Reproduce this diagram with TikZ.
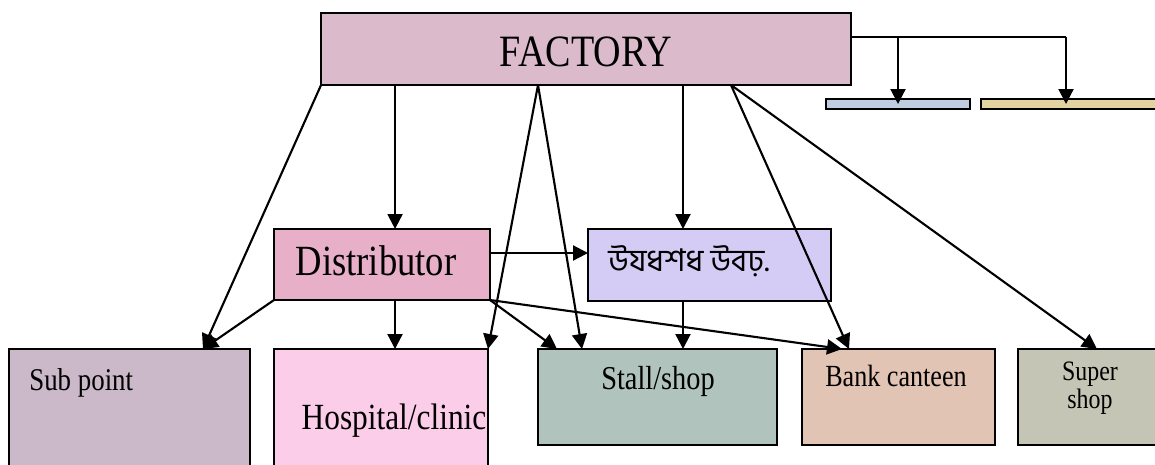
\documentclass[tikz,border=0pt]{standalone}
\usepackage{fontspec}
\setmainfont{Liberation Serif}[FakeStretch=0.85]
\newfontfamily\bnfont[Script=Bengali]{Hind Siliguri}
\usetikzlibrary{arrows.meta}
\definecolor{factorypink}{RGB}{219,187,203}
\definecolor{distpink}{RGB}{232,175,200}
\definecolor{depotlilac}{RGB}{212,204,244}
\definecolor{submauve}{RGB}{203,185,202}
\definecolor{hosppink}{RGB}{251,205,232}
\definecolor{stallgreen}{RGB}{176,195,188}
\definecolor{banktan}{RGB}{226,196,181}
\definecolor{supergrey}{RGB}{196,197,180}
\definecolor{barblue}{RGB}{192,205,225}
\definecolor{barsand}{RGB}{226,211,160}

\begin{document}
\begin{tikzpicture}[x=0.02cm,y=-0.02cm,
    caja/.style={draw=black,line width=0.9pt,inner sep=0pt,outer sep=0pt},
    flecha/.style={line width=1.2pt,-{Triangle[length=0.3cm,width=0.3cm]}},
    linea/.style={line width=1.2pt}]
                \useasboundingbox (0,0) rectangle (1155,464);

                % Cajas
                \node[caja,fill=factorypink,minimum width=10.6cm,minimum height=1.44cm] (factory) at (586,49) {};
                \node[caja,fill=barblue,minimum width=2.88cm,minimum height=0.2cm] (barone) at (898,104) {};
                \node[caja,fill=barsand,minimum width=3.78cm,minimum height=0.2cm] (bartwo) at (1075.5,104) {};
                \node[caja,fill=distpink,minimum width=4.32cm,minimum height=1.42cm] (distr) at (382,264.5) {};
                \node[caja,fill=depotlilac,minimum width=4.86cm,minimum height=1.44cm] (depot) at (709.5,265) {};
                \node[caja,fill=submauve,minimum width=4.82cm,minimum height=2.62cm] (subpt) at (129.5,414.5) {};
                \node[caja,fill=hosppink,minimum width=4.28cm,minimum height=2.62cm] (hosp) at (381,414.5) {};
                \node[caja,fill=stallgreen,minimum width=4.78cm,minimum height=1.92cm] (stall) at (657.5,397) {};
                \node[caja,fill=banktan,minimum width=3.86cm,minimum height=1.92cm] (bank) at (898.5,397) {};
                \node[caja,fill=supergrey,minimum width=2.88cm,minimum height=1.92cm] (super) at (1090,397) {};

                % Textos
                \node[anchor=base,font=\fontsize{25.5}{29}\selectfont] (factorytxt) at (586,66) {FACTORY};
                \node[anchor=base,font=\fontsize{24.5}{28}\selectfont] (distrtxt) at (376,275) {Distributor};
                \node[anchor=base west,inner sep=0pt,font=\bnfont\fontsize{17.8}{21}\selectfont] (depottxt) at (608,271) {উযধশধ উবঢ়.};
                \node[anchor=base west,inner sep=0pt,font=\fontsize{18}{22}\selectfont] (subpttxt) at (29,390) {Sub point};
                \node[anchor=base,font=\fontsize{21}{25}\selectfont] (hosptxt) at (394,429) {Hospital/clinic};
                \node[anchor=base,font=\fontsize{19}{23}\selectfont] (stalltxt) at (658,389) {Stall/shop};
                \node[anchor=base,font=\fontsize{17.5}{21}\selectfont] (banktxt) at (896,386) {Bank canteen};
                \node[anchor=base,align=center,font=\fontsize{16}{14.2}\selectfont] (supertxt) at (1090,408) {Super\\shop};

                % Puntos de salida
                \coordinate (fa) at ([xshift=1.48cm]factory.south west);
                \coordinate (fb) at ([xshift=4.34cm]factory.south west);
                \coordinate (fc) at ([xshift=7.24cm]factory.south west);
                \coordinate (fd) at ([xshift=8.2cm]factory.south west);
                \coordinate (fe) at ([yshift=0.24cm]factory.east);
                \coordinate (tb) at ([xshift=1.7cm]bartwo.west);
                \coordinate (db) at ([xshift=0.26cm]distr.south);
                \coordinate (de) at ([yshift=0.23cm]distr.east);
                \coordinate (sp) at ([xshift=1.47cm]subpt.north);

                % Flechas de la fabrica
                \draw[flecha] (factory.south west) -- (sp);
                \draw[flecha] (fa) -- (fa |- distr.north);
                \draw[flecha] (fb) -- (hosp.north east);
                \draw[flecha] (fb) -- ([xshift=0.88cm]stall.north west);
                \draw[flecha] (fc) -- (fc |- depot.north);
                \draw[flecha] (fd) -- ([xshift=0.94cm]bank.north west);
                \draw[flecha] (fd) -- ([xshift=1.58cm]super.north west);
                \draw[linea] (fe) -- (fe -| tb);
                \draw[flecha] (fe -| tb) -- (tb);
                \draw[flecha] (fe -| barone.center) -- (barone.center);

                % Flechas del distribuidor
                \draw[flecha] (de) -- (de -| depot.west);
                \draw[flecha] (distr.south west) -- (sp);
                \draw[flecha] (db) -- (db |- hosp.north);
                \draw[flecha] (distr.south east) -- ([xshift=0.38cm]stall.north west);
                \draw[flecha] (distr.south east) -- ([xshift=0.8cm]bank.north west);
                \draw[flecha] (fc |- depot.south) -- (fc |- stall.north);
            \end{tikzpicture}
\end{document}
